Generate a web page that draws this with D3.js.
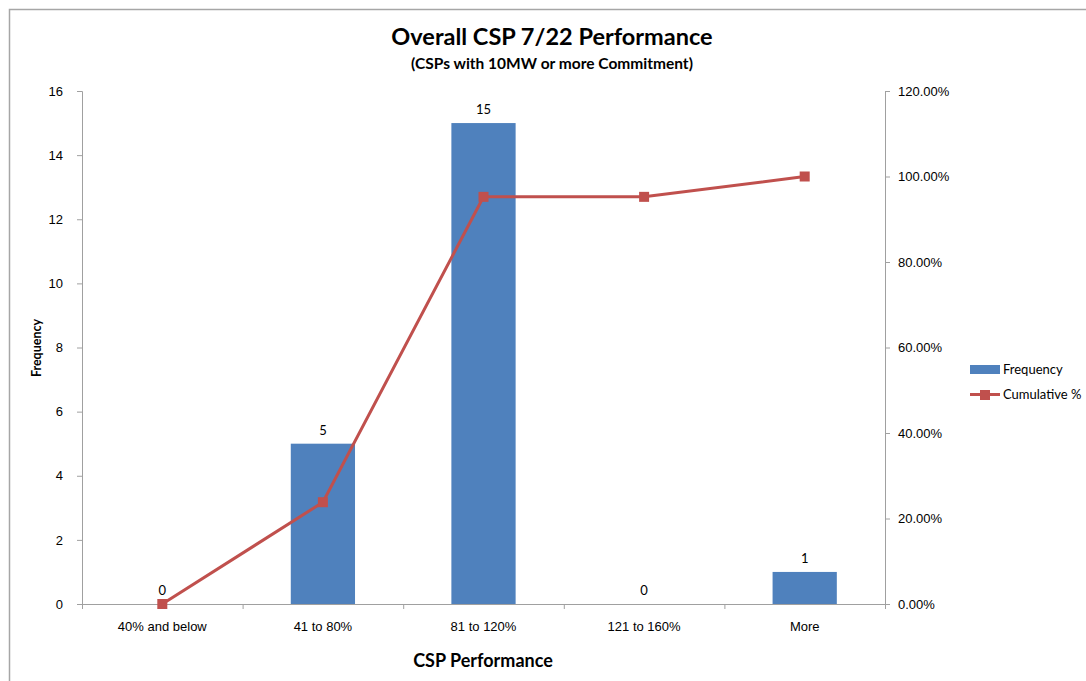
<!DOCTYPE html>
<html lang="en">
<head>
<meta charset="utf-8" />
<title>Overall CSP 7/22 Performance</title>
<script src="https://cdn.jsdelivr.net/npm/d3@7"></script>
<style>
  body { margin: 0; background: #fff; }
  svg { display: block; font-family: Lato, "Open Sans", sans-serif; }
  .tick text { font-size: 13px; fill: #000; }
  .domain, .tick line { stroke: #a0a0a0; }
</style>
</head>
<body>
<div id="chart"></div>
<script>
// data
var categories = ["40% and below", "41 to 80%", "81 to 120%", "121 to 160%", "More"];
var frequency = [0, 5, 15, 0, 1];
var cumulative = [0, 23.81, 95.24, 95.24, 100];
var leftTicks = [0, 2, 4, 6, 8, 10, 12, 14, 16];
var rightTicks = [0, 20, 40, 60, 80, 100, 120];

var width = 1086, height = 681;
var plotLeft = 82, plotRight = 885, plotTop = 91, plotBottom = 604;

var svg = d3.select("#chart").append("svg")
    .attr("width", width)
    .attr("height", height);

// outer chart frame (only top and left edge visible)
svg.append("path")
    .attr("d", "M9.5,681 V9.5 H1086")
    .attr("fill", "none")
    .attr("stroke", "#a6a6a6")
    .attr("stroke-width", 1.5);

var x = d3.scaleBand().domain(categories).range([plotLeft, plotRight]).padding(0);
var y = d3.scaleLinear().domain([0, 16]).range([plotBottom, plotTop]);
var y2 = d3.scaleLinear().domain([0, 120]).range([plotBottom, plotTop]);

// axes
var gx = svg.append("g")
    .attr("transform", "translate(0," + plotBottom + ")")
    .call(d3.axisBottom(x).tickSize(0).tickPadding(18));
gx.select(".domain").attr("d", "M" + plotLeft + ",0.5H" + plotRight);
// category boundary ticks
svg.append("g").selectAll("line")
    .data(categories.concat([null]))
    .join("line")
    .attr("x1", function(d, i) { return plotLeft + i * x.step() + 0.5; })
    .attr("x2", function(d, i) { return plotLeft + i * x.step() + 0.5; })
    .attr("y1", plotBottom)
    .attr("y2", plotBottom + 5)
    .attr("stroke", "#a0a0a0");

var gy = svg.append("g")
    .attr("transform", "translate(" + plotLeft + ",0)")
    .call(d3.axisLeft(y).tickValues(leftTicks).tickSize(5).tickPadding(14).tickSizeOuter(5));

var gy2 = svg.append("g")
    .attr("transform", "translate(" + plotRight + ",0)")
    .call(d3.axisRight(y2).tickValues(rightTicks).tickSize(5).tickPadding(8).tickSizeOuter(5)
      .tickFormat(function(d) { return d.toFixed(2) + "%"; }));

// bars
var bw = x.bandwidth() * 0.4;
svg.append("g").selectAll("rect")
    .data(frequency)
    .join("rect")
    .attr("x", function(d, i) { return x(categories[i]) + (x.bandwidth() - bw) / 2; })
    .attr("y", function(d) { return y(d); })
    .attr("width", bw)
    .attr("height", function(d) { return plotBottom - y(d); })
    .attr("fill", "#4f81bd");

// bar value labels
svg.append("g").selectAll("text")
    .data(frequency)
    .join("text")
    .attr("x", function(d, i) { return x(categories[i]) + x.bandwidth() / 2; })
    .attr("y", function(d) { return y(d) - 9; })
    .attr("text-anchor", "middle")
    .attr("font-size", 13)
    .text(function(d) { return d; });

// cumulative line
var line = d3.line()
    .x(function(d, i) { return x(categories[i]) + x.bandwidth() / 2; })
    .y(function(d) { return y2(d); });
svg.append("path")
    .datum(cumulative)
    .attr("d", line)
    .attr("fill", "none")
    .attr("stroke", "#c0504d")
    .attr("stroke-width", 3);
svg.append("g").selectAll("rect")
    .data(cumulative)
    .join("rect")
    .attr("x", function(d, i) { return x(categories[i]) + x.bandwidth() / 2 - 5; })
    .attr("y", function(d) { return y2(d) - 5; })
    .attr("width", 10)
    .attr("height", 10)
    .attr("fill", "#c0504d");

// titles
svg.append("text")
    .attr("x", 552).attr("y", 45)
    .attr("text-anchor", "middle")
    .attr("font-size", 23.5).attr("font-weight", "bold")
    .text("Overall CSP 7/22 Performance");
svg.append("text")
    .attr("x", 552).attr("y", 69)
    .attr("text-anchor", "middle")
    .attr("font-size", 15.5).attr("font-weight", "bold")
    .text("(CSPs with 10MW or more Commitment)");
svg.append("text")
    .attr("x", 483).attr("y", 667)
    .attr("text-anchor", "middle")
    .attr("font-size", 18).attr("font-weight", "bold")
    .text("CSP Performance");
svg.append("text")
    .attr("transform", "translate(41,348) rotate(-90)")
    .attr("text-anchor", "middle")
    .attr("font-size", 12.5).attr("font-weight", "bold")
    .text("Frequency");

// legend
var lg = svg.append("g").attr("transform", "translate(970,0)");
lg.append("rect").attr("x", 0).attr("y", 365).attr("width", 30).attr("height", 9).attr("fill", "#4f81bd");
lg.append("text").attr("x", 33).attr("y", 374).attr("font-size", 13).text("Frequency");
lg.append("line").attr("x1", 0).attr("x2", 30).attr("y1", 394.5).attr("y2", 394.5)
    .attr("stroke", "#c0504d").attr("stroke-width", 3);
lg.append("rect").attr("x", 10).attr("y", 390).attr("width", 10).attr("height", 10).attr("fill", "#c0504d");
lg.append("text").attr("x", 33).attr("y", 399).attr("font-size", 13).text("Cumulative %");
</script>
</body>
</html>
